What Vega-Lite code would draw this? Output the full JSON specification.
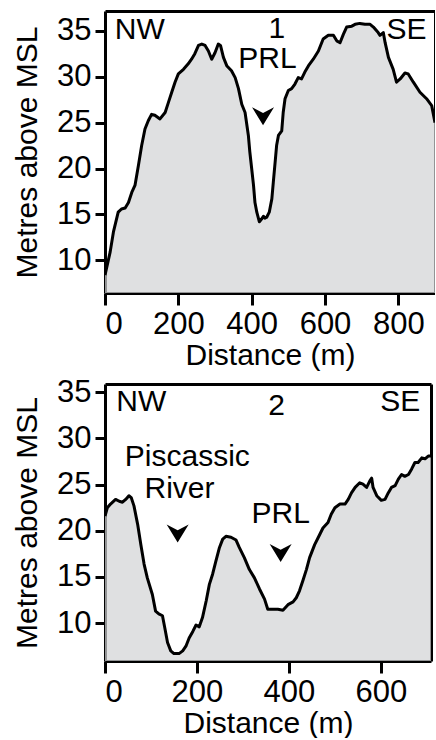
{
  "$schema": "https://vega.github.io/schema/vega-lite/v6.json",
  "padding": {"left": 12, "top": 11, "right": 0, "bottom": 0},
  "spacing": 6,
  "config": {
    "view": {"stroke": null},
    "font": "Liberation Sans",
    "axis": {
      "domain": true,
      "domainColor": "black",
      "domainWidth": 3,
      "zindex": 1,
      "grid": false,
      "tickColor": "black",
      "tickWidth": 3,
      "tickSize": 12,
      "labelColor": "black",
      "labelFont": "Liberation Sans",
      "labelFontSize": 31,
      "labelPadding": 4,
      "titleColor": "black",
      "titleFont": "Liberation Sans",
      "titleFontWeight": "normal",
      "titleFontSize": 30
    },
    "axisY": {"tickSize": 10, "titlePadding": 14},
    "axisX": {"titlePadding": 1}
  },
  "datasets": {
    "profile1": [
      {"Distance": 0, "Elevation": 8.4},
      {"Distance": 14, "Elevation": 10.9},
      {"Distance": 23, "Elevation": 13.1},
      {"Distance": 36, "Elevation": 15.25},
      {"Distance": 45, "Elevation": 15.6},
      {"Distance": 55, "Elevation": 15.7},
      {"Distance": 64, "Elevation": 16.3},
      {"Distance": 73, "Elevation": 17.4},
      {"Distance": 82, "Elevation": 18.2},
      {"Distance": 91, "Elevation": 20.3},
      {"Distance": 100, "Elevation": 22.5},
      {"Distance": 109, "Elevation": 24.3},
      {"Distance": 118, "Elevation": 25.2},
      {"Distance": 127, "Elevation": 25.9},
      {"Distance": 136, "Elevation": 25.8},
      {"Distance": 150, "Elevation": 25.4},
      {"Distance": 164, "Elevation": 26.1},
      {"Distance": 173, "Elevation": 27.2},
      {"Distance": 182, "Elevation": 28.3},
      {"Distance": 191, "Elevation": 29.4},
      {"Distance": 200, "Elevation": 30.3},
      {"Distance": 214, "Elevation": 30.8},
      {"Distance": 227, "Elevation": 31.4},
      {"Distance": 236, "Elevation": 31.9},
      {"Distance": 245, "Elevation": 32.5},
      {"Distance": 255, "Elevation": 33.4},
      {"Distance": 264, "Elevation": 33.55},
      {"Distance": 273, "Elevation": 33.4},
      {"Distance": 282, "Elevation": 32.8},
      {"Distance": 291, "Elevation": 31.9},
      {"Distance": 300, "Elevation": 32.6},
      {"Distance": 309, "Elevation": 33.55},
      {"Distance": 315, "Elevation": 33.4},
      {"Distance": 323, "Elevation": 32.1},
      {"Distance": 332, "Elevation": 31.2},
      {"Distance": 345, "Elevation": 30.65},
      {"Distance": 355, "Elevation": 29.9},
      {"Distance": 364, "Elevation": 28.7},
      {"Distance": 373, "Elevation": 27.0},
      {"Distance": 382, "Elevation": 26.1},
      {"Distance": 391, "Elevation": 23.6},
      {"Distance": 395, "Elevation": 21.8},
      {"Distance": 400, "Elevation": 20.0},
      {"Distance": 405, "Elevation": 18.2},
      {"Distance": 409, "Elevation": 16.3},
      {"Distance": 414, "Elevation": 15.25},
      {"Distance": 421, "Elevation": 14.2},
      {"Distance": 427, "Elevation": 14.5},
      {"Distance": 432, "Elevation": 14.8},
      {"Distance": 436, "Elevation": 14.6},
      {"Distance": 441, "Elevation": 14.7},
      {"Distance": 448, "Elevation": 15.25},
      {"Distance": 455, "Elevation": 16.7},
      {"Distance": 459, "Elevation": 18.5},
      {"Distance": 464, "Elevation": 20.7},
      {"Distance": 468, "Elevation": 22.5},
      {"Distance": 473, "Elevation": 23.6},
      {"Distance": 482, "Elevation": 24.1},
      {"Distance": 486, "Elevation": 26.1},
      {"Distance": 491, "Elevation": 27.6},
      {"Distance": 500, "Elevation": 28.5},
      {"Distance": 509, "Elevation": 28.7},
      {"Distance": 518, "Elevation": 29.2},
      {"Distance": 527, "Elevation": 29.9},
      {"Distance": 536, "Elevation": 29.75},
      {"Distance": 545, "Elevation": 30.5},
      {"Distance": 555, "Elevation": 31.2},
      {"Distance": 568, "Elevation": 31.9},
      {"Distance": 582, "Elevation": 32.8},
      {"Distance": 595, "Elevation": 34.1},
      {"Distance": 609, "Elevation": 34.5},
      {"Distance": 623, "Elevation": 34.5},
      {"Distance": 632, "Elevation": 33.9},
      {"Distance": 641, "Elevation": 33.7},
      {"Distance": 650, "Elevation": 34.6},
      {"Distance": 659, "Elevation": 35.4},
      {"Distance": 673, "Elevation": 35.5},
      {"Distance": 682, "Elevation": 35.7},
      {"Distance": 695, "Elevation": 35.8},
      {"Distance": 709, "Elevation": 35.7},
      {"Distance": 723, "Elevation": 35.7},
      {"Distance": 732, "Elevation": 35.4},
      {"Distance": 745, "Elevation": 34.8},
      {"Distance": 750, "Elevation": 34.5},
      {"Distance": 759, "Elevation": 34.8},
      {"Distance": 764, "Elevation": 33.7},
      {"Distance": 773, "Elevation": 32.1},
      {"Distance": 786, "Elevation": 30.8},
      {"Distance": 795, "Elevation": 29.4},
      {"Distance": 805, "Elevation": 29.75},
      {"Distance": 818, "Elevation": 30.4},
      {"Distance": 827, "Elevation": 30.3},
      {"Distance": 841, "Elevation": 29.4},
      {"Distance": 859, "Elevation": 28.3},
      {"Distance": 877, "Elevation": 27.6},
      {"Distance": 891, "Elevation": 26.85},
      {"Distance": 900, "Elevation": 25.0}
    ],
    "profile2": [
      {"Distance": 0, "Elevation": 21.6},
      {"Distance": 5, "Elevation": 22.5},
      {"Distance": 12, "Elevation": 22.9},
      {"Distance": 23, "Elevation": 23.4},
      {"Distance": 31, "Elevation": 23.2},
      {"Distance": 38, "Elevation": 23.1},
      {"Distance": 45, "Elevation": 23.4},
      {"Distance": 52, "Elevation": 23.8},
      {"Distance": 57, "Elevation": 23.6},
      {"Distance": 63, "Elevation": 22.7},
      {"Distance": 71, "Elevation": 20.7},
      {"Distance": 78, "Elevation": 18.5},
      {"Distance": 85, "Elevation": 16.4},
      {"Distance": 92, "Elevation": 14.9},
      {"Distance": 103, "Elevation": 13.1},
      {"Distance": 110, "Elevation": 11.3},
      {"Distance": 117, "Elevation": 11.0},
      {"Distance": 125, "Elevation": 10.8},
      {"Distance": 130, "Elevation": 9.5},
      {"Distance": 136, "Elevation": 7.9},
      {"Distance": 143, "Elevation": 7.0},
      {"Distance": 150, "Elevation": 6.7},
      {"Distance": 161, "Elevation": 6.7},
      {"Distance": 169, "Elevation": 7.0},
      {"Distance": 176, "Elevation": 7.5},
      {"Distance": 183, "Elevation": 8.4},
      {"Distance": 191, "Elevation": 9.1},
      {"Distance": 198, "Elevation": 9.8},
      {"Distance": 205, "Elevation": 9.6},
      {"Distance": 212, "Elevation": 10.6},
      {"Distance": 220, "Elevation": 12.4},
      {"Distance": 227, "Elevation": 14.2},
      {"Distance": 234, "Elevation": 15.3},
      {"Distance": 241, "Elevation": 16.7},
      {"Distance": 249, "Elevation": 18.2},
      {"Distance": 256, "Elevation": 19.1},
      {"Distance": 263, "Elevation": 19.4},
      {"Distance": 274, "Elevation": 19.3},
      {"Distance": 285, "Elevation": 19.0},
      {"Distance": 292, "Elevation": 18.2},
      {"Distance": 303, "Elevation": 17.1},
      {"Distance": 314, "Elevation": 15.8},
      {"Distance": 325, "Elevation": 14.9},
      {"Distance": 336, "Elevation": 13.7},
      {"Distance": 347, "Elevation": 12.6},
      {"Distance": 354, "Elevation": 11.5},
      {"Distance": 365, "Elevation": 11.5},
      {"Distance": 376, "Elevation": 11.5},
      {"Distance": 387, "Elevation": 11.4},
      {"Distance": 398, "Elevation": 12.0},
      {"Distance": 409, "Elevation": 12.3},
      {"Distance": 416, "Elevation": 12.75},
      {"Distance": 423, "Elevation": 13.5},
      {"Distance": 431, "Elevation": 14.7},
      {"Distance": 438, "Elevation": 15.8},
      {"Distance": 445, "Elevation": 17.1},
      {"Distance": 456, "Elevation": 18.5},
      {"Distance": 467, "Elevation": 19.6},
      {"Distance": 474, "Elevation": 20.3},
      {"Distance": 485, "Elevation": 20.9},
      {"Distance": 492, "Elevation": 21.8},
      {"Distance": 500, "Elevation": 22.5},
      {"Distance": 511, "Elevation": 22.9},
      {"Distance": 522, "Elevation": 22.9},
      {"Distance": 529, "Elevation": 23.4},
      {"Distance": 536, "Elevation": 24.1},
      {"Distance": 544, "Elevation": 24.7},
      {"Distance": 554, "Elevation": 25.2},
      {"Distance": 561, "Elevation": 25.05},
      {"Distance": 569, "Elevation": 24.7},
      {"Distance": 576, "Elevation": 25.4},
      {"Distance": 580, "Elevation": 25.7},
      {"Distance": 583, "Elevation": 24.7},
      {"Distance": 591, "Elevation": 23.8},
      {"Distance": 601, "Elevation": 23.3},
      {"Distance": 609, "Elevation": 23.4},
      {"Distance": 616, "Elevation": 24.1},
      {"Distance": 623, "Elevation": 24.7},
      {"Distance": 631, "Elevation": 24.9},
      {"Distance": 638, "Elevation": 25.6},
      {"Distance": 645, "Elevation": 26.1},
      {"Distance": 652, "Elevation": 25.9},
      {"Distance": 660, "Elevation": 26.1},
      {"Distance": 667, "Elevation": 26.7},
      {"Distance": 674, "Elevation": 27.4},
      {"Distance": 681, "Elevation": 27.4},
      {"Distance": 689, "Elevation": 27.9},
      {"Distance": 696, "Elevation": 27.8},
      {"Distance": 703, "Elevation": 28.1},
      {"Distance": 709, "Elevation": 28.1}
    ],
    "labels1": [
      {"Distance": 95, "Elevation": 35.1, "label": "NW"},
      {"Distance": 469, "Elevation": 35.2, "label": "1"},
      {"Distance": 822, "Elevation": 35.1, "label": "SE"},
      {"Distance": 443, "Elevation": 31.9, "label": "PRL"}
    ],
    "arrows1": [
      {"Distance": 431, "Elevation": 25.7}
    ],
    "labels2": [
      {"Distance": 79, "Elevation": 34.0, "label": "NW"},
      {"Distance": 373, "Elevation": 33.55, "label": "2"},
      {"Distance": 642, "Elevation": 34.0, "label": "SE"},
      {"Distance": 179, "Elevation": 28.0, "label": "Piscassic"},
      {"Distance": 162, "Elevation": 24.5, "label": "River"},
      {"Distance": 382, "Elevation": 21.8, "label": "PRL"}
    ],
    "arrows2": [
      {"Distance": 158, "Elevation": 19.7},
      {"Distance": 382, "Elevation": 17.6}
    ]
  },
  "vconcat": [
    {
      "width": 330,
      "height": 282,
      "resolve": {"axis": {"x": "independent", "y": "independent"}},
      "layer": [
        {
          "data": {"name": "profile1"},
          "mark": {"type": "area", "color": "#d1d3d4", "line": {"color": "black", "strokeWidth": 3, "strokeJoin": "round"}, "clip": true},
          "encoding": {
            "x": {"field": "Distance", "type": "quantitative",
                  "scale": {"domain": [0, 900], "nice": false, "zero": false},
                  "axis": {"title": "Distance (m)", "values": [0, 200, 400, 600, 800]}},
            "y": {"field": "Elevation", "type": "quantitative",
                  "scale": {"domain": [6.45, 37.15], "nice": false, "zero": false},
                  "axis": {"title": "Metres above MSL", "values": [10, 15, 20, 25, 30, 35]}}
          }
        },
        {
          "data": {"name": "labels1"},
          "mark": {"type": "text", "fontSize": 30, "font": "Liberation Sans", "color": "black", "align": "center", "baseline": "middle"},
          "encoding": {
            "x": {"field": "Distance", "type": "quantitative",
                  "axis": {"orient": "top", "labels": false, "ticks": false, "title": null}},
            "y": {"field": "Elevation", "type": "quantitative",
                  "axis": {"orient": "right", "labels": false, "ticks": false, "title": null}},
            "text": {"field": "label"}
          }
        },
        {
          "data": {"name": "arrows1"},
          "mark": {"type": "point", "shape": "M-1,-0.82 L0,-0.3 L1,-0.82 L0,0.82 Z", "filled": true, "color": "black", "opacity": 1, "size": 484, "strokeWidth": 0},
          "encoding": {
            "x": {"field": "Distance", "type": "quantitative", "axis": null},
            "y": {"field": "Elevation", "type": "quantitative", "axis": null}
          }
        }
      ]
    },
    {
      "width": 326,
      "height": 277,
      "resolve": {"axis": {"x": "independent", "y": "independent"}},
      "layer": [
        {
          "data": {"name": "profile2"},
          "mark": {"type": "area", "color": "#d1d3d4", "line": {"color": "black", "strokeWidth": 3, "strokeJoin": "round"}, "clip": true},
          "encoding": {
            "x": {"field": "Distance", "type": "quantitative",
                  "scale": {"domain": [0, 709], "nice": false, "zero": false},
                  "axis": {"title": "Distance (m)", "values": [0, 200, 400, 600]}},
            "y": {"field": "Elevation", "type": "quantitative",
                  "scale": {"domain": [5.9, 35.9], "nice": false, "zero": false},
                  "axis": {"title": "Metres above MSL", "values": [10, 15, 20, 25, 30, 35]}}
          }
        },
        {
          "data": {"name": "labels2"},
          "mark": {"type": "text", "fontSize": 30, "font": "Liberation Sans", "color": "black", "align": "center", "baseline": "middle"},
          "encoding": {
            "x": {"field": "Distance", "type": "quantitative",
                  "axis": {"orient": "top", "labels": false, "ticks": false, "title": null}},
            "y": {"field": "Elevation", "type": "quantitative",
                  "axis": {"orient": "right", "labels": false, "ticks": false, "title": null}},
            "text": {"field": "label"}
          }
        },
        {
          "data": {"name": "arrows2"},
          "mark": {"type": "point", "shape": "M-1,-0.82 L0,-0.3 L1,-0.82 L0,0.82 Z", "filled": true, "color": "black", "opacity": 1, "size": 484, "strokeWidth": 0},
          "encoding": {
            "x": {"field": "Distance", "type": "quantitative", "axis": null},
            "y": {"field": "Elevation", "type": "quantitative", "axis": null}
          }
        }
      ]
    }
  ]
}
